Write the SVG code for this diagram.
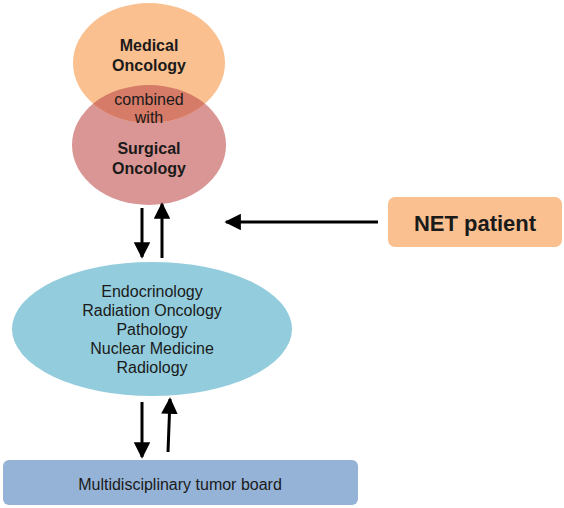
<svg xmlns="http://www.w3.org/2000/svg" width="564" height="508" viewBox="0 0 564 508">
<style>
text{font-family:"Liberation Sans",Arial,sans-serif;fill:#1a1a1a;text-anchor:middle}
.b{font-weight:bold;font-size:16px}
.n{font-size:16px}
.ln{stroke:#000;stroke-width:3;fill:none}
</style>
<defs>
<marker id="ah" viewBox="0 0 10 10" refX="9" refY="5" markerWidth="5.5" markerHeight="5.5" markerUnits="strokeWidth" orient="auto">
<path d="M0,0 L10,5 L0,10 Z" fill="#000"/>
</marker>
<clipPath id="oc"><ellipse cx="149" cy="63" rx="76" ry="60"/></clipPath>
</defs>
<g id="surgical">
<ellipse cx="149" cy="145" rx="77" ry="60" fill="#D99694"/>
</g>
<g id="medical">
<ellipse cx="149" cy="63" rx="76" ry="60" fill="#FAC090"/>
<ellipse cx="149" cy="145" rx="77" ry="60" fill="#D67B68" clip-path="url(#oc)"/>
<text class="b" x="149" y="50.5">Medical</text>
<text class="b" x="149" y="70.5">Oncology</text>
<text class="n" x="149" y="105">combined</text>
<text class="n" x="149" y="123">with</text>
<text class="b" x="149" y="154">Surgical</text>
<text class="b" x="149" y="173.5">Oncology</text>
</g>
<g id="net">
<rect x="388" y="197" width="174" height="50" rx="7" fill="#FAC090"/>
<text x="475" y="231" style="font-weight:bold;font-size:22px">NET patient</text>
</g>
<g id="specialties">
<ellipse cx="152" cy="329" rx="140" ry="67" fill="#93CDDD"/>
<text class="n" x="152" y="297">Endocrinology</text>
<text class="n" x="152" y="316">Radiation Oncology</text>
<text class="n" x="152" y="335">Pathology</text>
<text class="n" x="152" y="354">Nuclear Medicine</text>
<text class="n" x="152" y="373">Radiology</text>
</g>
<g id="board">
<rect x="3" y="460" width="355" height="45" rx="6" fill="#95B3D7"/>
<text class="n" x="180" y="490">Multidisciplinary tumor board</text>
</g>
<g id="connectors">
<line class="ln" x1="142" y1="208" x2="142" y2="257" marker-end="url(#ah)"/>
<line class="ln" x1="162" y1="258" x2="162" y2="204" marker-end="url(#ah)"/>
<line class="ln" x1="378" y1="222" x2="226" y2="222" marker-end="url(#ah)"/>
<line class="ln" x1="142" y1="402" x2="142" y2="457" marker-end="url(#ah)"/>
<line class="ln" x1="168" y1="452" x2="170" y2="399" marker-end="url(#ah)"/>
</g>
</svg>
